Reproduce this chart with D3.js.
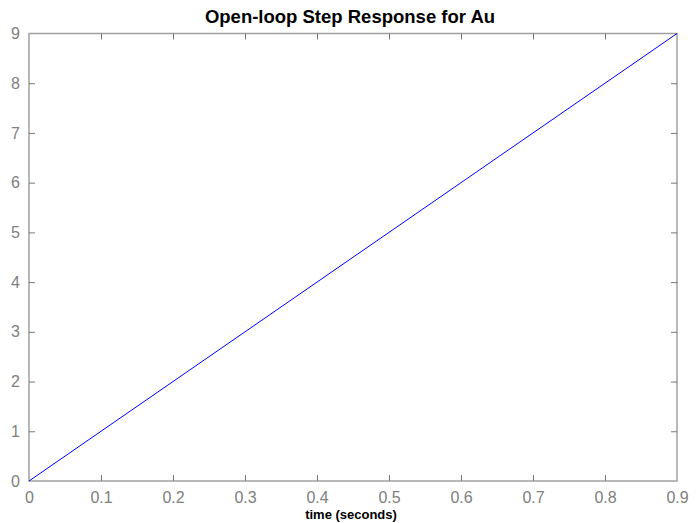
<!DOCTYPE html>
<html>
<head>
<meta charset="utf-8">
<script src="https://cdn.jsdelivr.net/npm/d3@7"></script>
<style>
	body { margin: 0; background: #fff; }
	svg { display: block; }
</style>
</head>
<body>
<div id="chart"></div>
<script>
// step response of Au (ramp)
var timeValues = [0, 0.9];
var responseValues = [0, 9];
var xTicks = [0, 0.1, 0.2, 0.3, 0.4, 0.5, 0.6, 0.7, 0.8, 0.9];
var yTicks = [0, 1, 2, 3, 4, 5, 6, 7, 8, 9];

var width = 699, height = 523;
var margin = { top: 33.5, right: 22, bottom: 42, left: 29 };
var axisColour = "#a0a0a0";
var labelColour = "#808080";

var svg = d3.select("#chart").append("svg")
	.attr("width", width)
	.attr("height", height);

var x = d3.scaleLinear()
	.domain([0, 0.9])
	.range([margin.left, width - margin.right]);

var y = d3.scaleLinear()
	.domain([0, 9])
	.range([height - margin.bottom, margin.top]);

var pts = timeValues.map(function (t, i) { return [t, responseValues[i]]; });

// box
svg.append("rect")
	.attr("x", x(0))
	.attr("y", y(9))
	.attr("width", x(0.9) - x(0))
	.attr("height", y(0) - y(9))
	.attr("fill", "#fff")
	.attr("stroke", axisColour)
	.attr("stroke-width", 1.5);

// ticks (inward on all four sides)
function styleAxis(g) {
	g.select(".domain").remove();
	g.selectAll(".tick line").attr("stroke", "#777").attr("stroke-width", 1);
	g.selectAll(".tick text")
		.attr("fill", labelColour)
		.style("font-family", "Arial, 'Liberation Sans', sans-serif")
		.style("font-size", "16px");
}

svg.append("g")
	.attr("transform", "translate(0," + y(0) + ")")
	.call(d3.axisBottom(x).tickValues(xTicks).tickSizeInner(-6).tickSizeOuter(0).tickPadding(11).tickFormat(d3.format("")))
	.call(styleAxis);

svg.append("g")
	.attr("transform", "translate(0," + y(9) + ")")
	.call(d3.axisTop(x).tickValues(xTicks).tickSizeInner(-6).tickSizeOuter(0).tickFormat(""))
	.call(styleAxis);

svg.append("g")
	.attr("transform", "translate(" + x(0) + ",0)")
	.call(d3.axisLeft(y).tickValues(yTicks).tickSizeInner(-6).tickSizeOuter(0).tickPadding(9))
	.call(styleAxis);

svg.append("g")
	.attr("transform", "translate(" + x(0.9) + ",0)")
	.call(d3.axisRight(y).tickValues(yTicks).tickSizeInner(-6).tickSizeOuter(0).tickFormat(""))
	.call(styleAxis);

// hide ticks at the corners
svg.selectAll(".tick").filter(function (d) { return d === 0 || d === 9 || d === 0.9; })
	.select("line").remove();

// response line
svg.append("path")
	.datum(pts)
	.attr("fill", "none")
	.attr("stroke", "#0000ff")
	.attr("stroke-width", 1)
	.attr("d", d3.line()
		.x(function (d) { return x(d[0]); })
		.y(function (d) { return y(d[1]); }));

// title
svg.append("text")
	.attr("x", 350)
	.attr("y", 23)
	.attr("text-anchor", "middle")
	.style("font-family", "Arial, 'Liberation Sans', sans-serif")
	.style("font-size", "18.5px")
	.style("font-weight", "bold")
	.text("Open-loop Step Response for Au");

// x label
svg.append("text")
	.attr("x", 351)
	.attr("y", 519)
	.attr("text-anchor", "middle")
	.style("font-family", "Arial, 'Liberation Sans', sans-serif")
	.style("font-size", "13px")
	.style("font-weight", "bold")
	.text("time (seconds)");
</script>
</body>
</html>
